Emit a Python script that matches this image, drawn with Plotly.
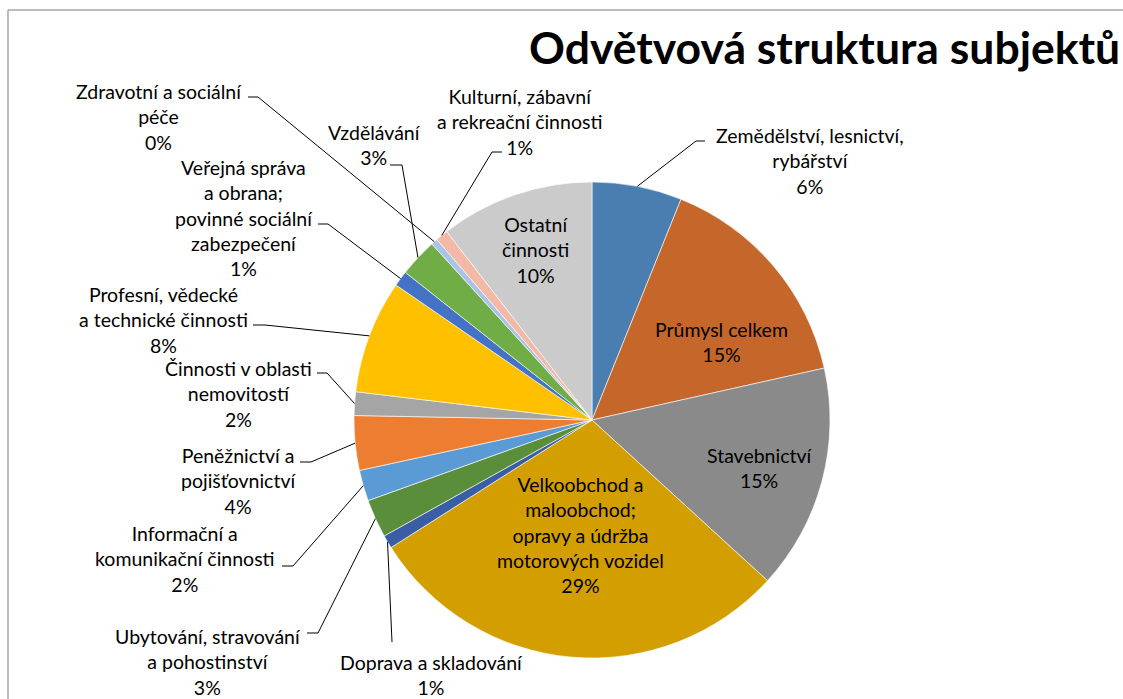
"""Odvětvová struktura subjektů - pie chart with Excel-style leader lines."""

import math

import plotly.graph_objects as go

# data
categories = [
    "Zemědělství, lesnictví, rybářství",
    "Průmysl celkem",
    "Stavebnictví",
    "Velkoobchod a maloobchod; opravy a údržba motorových vozidel",
    "Doprava a skladování",
    "Ubytování, stravování a pohostinství",
    "Informační a komunikační činnosti",
    "Peněžnictví a pojišťovnictví",
    "Činnosti v oblasti nemovitostí",
    "Profesní, vědecké a technické činnosti",
    "Veřejná správa a obrana; povinné sociální zabezpečení",
    "Vzdělávání",
    "Zdravotní a sociální péče",
    "Kulturní, zábavní a rekreační činnosti",
    "Ostatní činnosti",
]
shares = [6.1, 15.4, 15.3, 29.2, 0.9, 2.6, 2.1, 3.7, 1.6, 7.7, 1.05, 2.6, 0.45, 0.85, 10.45]
# how each label is wrapped in the original
label_lines = [
    ["Zemědělství, lesnictví,", "rybářství"],
    ["Průmysl celkem"],
    ["Stavebnictví"],
    ["Velkoobchod a", "maloobchod;", "opravy a údržba", "motorových vozidel"],
    ["Doprava a skladování"],
    ["Ubytování, stravování", "a pohostinství"],
    ["Informační a", "komunikační činnosti"],
    ["Peněžnictví a", "pojišťovnictví"],
    ["Činnosti v oblasti", "nemovitostí"],
    ["Profesní, vědecké", "a technické činnosti"],
    ["Veřejná správa", "a obrana;", "povinné sociální", "zabezpečení"],
    ["Vzdělávání"],
    ["Zdravotní a sociální", "péče"],
    ["Kulturní, zábavní", "a rekreační činnosti"],
    ["Ostatní", "činnosti"],
]
colors = [
    "#4A7EB1", "#C5662A", "#8A8A8A", "#D29E00", "#3A5EA6", "#5A8E3A", "#5B9BD5",
    "#ED7D31", "#A5A5A5", "#FFC000", "#4472C4", "#70AD47", "#A9C4E6", "#F4B9A6",
    "#CBCBCB",
]
title = "Odvětvová struktura subjektů"

# layout (pixels)
W, H = 1123, 699
CX, CY, R = 592, 420, 238
FONT = "Lato"
LABEL_SIZE = 19.5

# label block centres (px); leader = (start x, elbow x, y) or None for inside labels
label_pos = [
    (810, 161, (705, 696, 141)),
    (722, 342, None),
    (760, 468, None),
    (580, 535, None),
    (431, 675, (392, 392, 642)),
    (208, 662, (307, 318, 633)),
    (185, 559, (282, 293, 566)),
    (238, 481, (300, 311, 462)),
    (238, 394, (317, 327, 373)),
    (163, 320, (253, 265, 325)),
    (244, 218, (318, 328, 224)),
    (375, 145, (390, 402, 165)),
    (159, 117, (248, 258, 97)),
    (519, 122, (502, 492, 152)),
    (535, 250, None),
]


def px(x):
    return x / W


def py(y):
    return 1 - y / H


fig = go.Figure(
    go.Pie(
        labels=categories,
        values=shares,
        sort=False,
        direction="clockwise",
        rotation=0,
        marker=dict(colors=colors, line=dict(color="white", width=0.6)),
        textinfo="none",
        hoverinfo="label+percent",
        domain=dict(x=[px(CX - R), px(CX + R)], y=[py(CY + R), py(CY - R)]),
        showlegend=False,
    )
)

total = sum(shares)
cum = 0.0
annotations = []
shapes = []
for name, lines, value, (tx, ty, leader) in zip(categories, label_lines, shares, label_pos):
    pct = round(value / total * 100)
    text = "<br>".join(lines + [f"{pct}%"])
    annotations.append(dict(
        x=px(tx), y=py(ty), xref="paper", yref="paper",
        text=text, showarrow=False, xanchor="center", yanchor="middle",
        font=dict(family=FONT, size=LABEL_SIZE, color="#000000"),
    ))
    theta = 2 * math.pi * (cum + value / 2) / total
    cum += value
    if leader is None:
        continue
    x0, x1, y0 = leader
    ex = CX + R * math.sin(theta)
    ey = CY - R * math.cos(theta)
    shapes.append(dict(
        type="path", xref="paper", yref="paper",
        path=f"M {px(x0)},{py(y0)} L {px(x1)},{py(y0)} L {px(ex)},{py(ey)}",
        line=dict(color="black", width=1),
    ))

# chart area border (top and left visible)
shapes.append(dict(type="line", xref="paper", yref="paper",
                   x0=px(8), x1=1, y0=py(10), y1=py(10),
                   line=dict(color="#A6A6A6", width=1.5)))
shapes.append(dict(type="line", xref="paper", yref="paper",
                   x0=px(8), x1=px(8), y0=py(10), y1=0,
                   line=dict(color="#A6A6A6", width=1.5)))

annotations.append(dict(
    x=px(1122), y=py(46), xref="paper", yref="paper",
    text=f"<b>{title}</b>", showarrow=False, xanchor="right", yanchor="middle",
    font=dict(family=FONT, size=44.5, color="#000000"),
))

fig.update_layout(
    width=W, height=H, autosize=False,
    margin=dict(l=0, r=0, t=0, b=0),
    paper_bgcolor="white", plot_bgcolor="white",
    annotations=annotations, shapes=shapes,
)

# drop the browser's default body margin so the figure fills the window
fig.write_html("out.html", config={"displayModeBar": False},
               post_script="document.body.style.margin='0';")
